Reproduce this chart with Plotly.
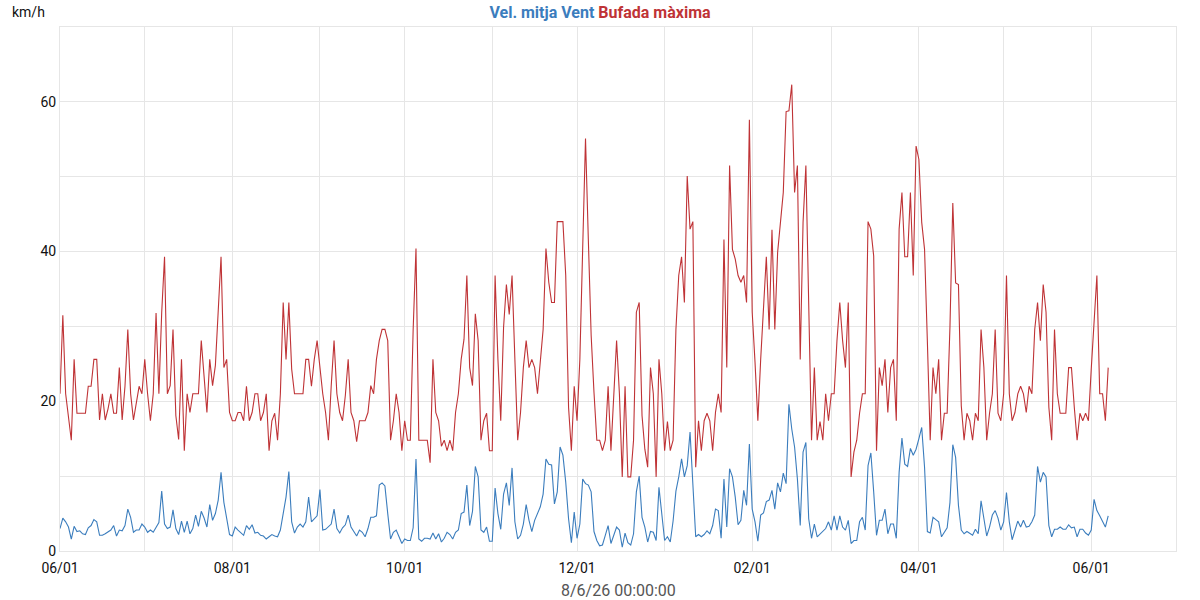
import pandas as pd
import plotly.graph_objects as go

start_date = "2025-06-01"

gust_max = [
    21, 31.5, 21, 18, 14.8, 25.6, 18.4, 18.4, 18.4, 18.4,
    22, 22, 25.6, 25.6, 17.5, 21, 17.5, 19, 21, 18.4,
    18.4, 24.5, 17.5, 22, 29.6, 21, 17.5, 20, 22, 21,
    25.6, 21, 17.4, 21, 31.8, 21, 31.9, 39.3, 21, 22.1,
    29.6, 18.1, 14.9, 25.6, 13.4, 21, 18.5, 21, 21, 21,
    28.1, 23.4, 18.5, 25.6, 22.1, 24.8, 32.8, 39.3, 24.5, 25.6,
    18.5, 17.4, 17.4, 18.5, 18.5, 17.4, 22, 17.4, 18.5, 21,
    21, 17.4, 18.5, 21, 13.4, 17.4, 18.4, 14.8, 21, 33.2,
    25.6, 33.2, 24.3, 21, 21, 21, 21, 25.6, 25.6, 22,
    25.6, 28.1, 24.5, 21, 18.5, 14.8, 22.1, 28.1, 21, 18.5,
    17.4, 20.8, 25.6, 18.5, 17.4, 14.6, 17.4, 17.4, 17.4, 18.5,
    22.1, 21, 25.6, 28.1, 29.6, 29.6, 28.1, 14.8, 17.4, 21,
    18.5, 13.4, 17.4, 14.8, 14.8, 29.6, 40.4, 14.8, 14.8, 14.8,
    14.8, 11.8, 25.6, 18.5, 17.4, 14, 14.8, 13.4, 14.8, 13.4,
    18.5, 21, 25.6, 28.3, 36.8, 24.5, 22.1, 31.7, 28.1, 14.8,
    17.4, 18.4, 13.4, 13.4, 36.8, 25.6, 17.4, 29.9, 35.6, 31.6,
    36.8, 25.6, 14.8, 18.5, 24.5, 28.1, 24.5, 25.6, 24.5, 21,
    25.6, 29.6, 40.4, 35.9, 33.2, 33.2, 44, 44, 44, 36.8,
    19.2, 13.4, 22, 17.4, 25.6, 40.4, 55.1, 41.6, 28.8, 21.2,
    14.8, 14.8, 13.4, 14.8, 22, 13.4, 21, 28.1, 21, 9.9,
    22, 9.9, 9.9, 14.8, 31.9, 33.2, 18.1, 13.6, 11.2, 24.5,
    21, 9.9, 25.6, 21, 13.4, 17.3, 13.4, 14.8, 29.6, 36.8,
    39.3, 33.2, 50.1, 43, 44, 11.2, 17.4, 13.4, 17.4, 18.4,
    17.4, 13.4, 18.5, 21, 18.5, 41.6, 24.5, 51.5, 40.3, 39,
    36.8, 35.9, 36.8, 33.2, 57.6, 31.9, 25.2, 17.4, 25.6, 31.9,
    39.3, 29.6, 42.9, 29.6, 39.9, 43.9, 47.9, 58.7, 58.8, 62.3,
    47.9, 51.5, 25.6, 43.9, 51.5, 33, 14.8, 24.5, 14.8, 17.3,
    14.8, 21, 17.4, 21, 21, 28.1, 33.2, 28.1, 24.5, 33.2,
    9.9, 13.2, 14.8, 18.4, 21, 21, 44, 43, 39.4, 13.4,
    24.5, 22.1, 25.6, 18.5, 24.5, 25.6, 17.4, 43, 47.9, 39.3,
    39.3, 47.9, 36.8, 54.1, 52.3, 43.9, 40.3, 28, 14.8, 24.5,
    21, 25.6, 14.8, 18.4, 18.4, 30, 46.5, 35.8, 35.6, 19.4,
    14.8, 18.4, 17.4, 14.8, 18.4, 17.4, 29.6, 24.5, 14.8, 18.4,
    21, 29.6, 18.4, 17.4, 21, 36.8, 21, 17.4, 18.5, 21,
    22, 21, 18.5, 22, 21, 29.6, 33.2, 28.1, 35.6, 31.9,
    19.2, 14.8, 29.6, 21, 18.4, 18.4, 18.4, 24.5, 24.5, 19.2,
    14.8, 18.4, 17.4, 18.4, 17.4, 24.3, 30.1, 36.8, 21, 21,
    17.4, 24.5,
]

wind_avg = [
    3.0, 4.4, 3.9, 3.2, 1.6, 3.3, 2.6, 2.7, 2.3, 2.2,
    3.1, 3.4, 4.2, 3.9, 2.1, 2.1, 2.3, 2.5, 2.8, 3.4,
    2.0, 2.8, 2.7, 3.4, 5.6, 4.5, 2.5, 2.8, 2.8, 3.6,
    3.2, 2.5, 2.8, 2.5, 3.2, 3.8, 8.0, 3.6, 3.0, 3.2,
    5.5, 3.0, 2.2, 4.0, 2.5, 4.0, 2.3, 3.0, 4.8, 3.3,
    5.3, 4.4, 3.2, 6.2, 4.1, 5.0, 6.8, 10.5, 6.5, 4.3,
    2.2, 2.0, 3.2, 2.8, 2.4, 2.1, 3.4, 2.9, 3.5, 2.4,
    2.5, 2.1, 2.0, 1.6, 1.9, 2.2, 2.0, 1.9, 2.8, 5.0,
    7.2, 10.6, 3.9, 2.4, 3.2, 3.6, 3.2, 3.9, 7.2, 3.9,
    4.3, 4.7, 8.2, 2.8, 2.9, 3.2, 3.6, 5.6, 3.0, 2.4,
    3.1, 3.5, 4.8, 3.2, 2.6, 2.0, 2.8, 2.5, 1.9, 3.0,
    4.5, 4.5, 4.7, 8.8, 9.1, 8.7, 5.0, 1.6, 2.5, 2.8,
    1.9, 1.0, 1.6, 1.4, 1.4, 3.1, 12.3, 1.6, 1.3, 1.7,
    1.7, 1.6, 2.4, 1.6, 2.3, 1.2, 1.7, 2.5, 2.2, 1.6,
    2.5, 2.8, 5.0, 5.2, 8.8, 3.4, 5.3, 11.3, 9.9, 2.8,
    2.5, 3.2, 1.3, 1.3, 8.4, 5.0, 2.9, 7.6, 9.1, 6.1,
    11.1, 3.9, 1.6, 2.1, 3.6, 6.2, 4.1, 2.6, 4.1, 5.0,
    5.9, 7.6, 12.3, 11.6, 11.5, 6.3, 7.9, 13.9, 12.8, 9.2,
    4.3, 1.1, 5.2, 1.7, 3.6, 9.6, 9.0, 8.8, 7.9, 2.6,
    1.4, 0.7, 0.8, 2.1, 3.4, 1.0, 2.2, 3.2, 2.8, 0.5,
    2.4, 1.1, 0.8, 2.3, 7.9, 10.0, 4.5, 3.2, 1.2, 2.6,
    2.5, 1.4, 8.5, 4.8, 1.4, 1.9, 1.2, 4.0, 8.0, 9.9,
    12.3, 9.9, 11.4, 15.9, 8.3, 1.9, 2.2, 1.9, 2.2, 2.7,
    2.3, 3.4, 5.6, 5.4, 1.7, 9.6, 3.2, 11.0, 9.9, 7.2,
    3.5, 4.1, 8.1, 6.1, 14.3, 5.6, 3.9, 1.3, 4.8, 5.1,
    6.6, 6.8, 8.1, 5.6, 9.1, 7.9, 10.4, 9.0, 19.6, 16.3,
    13.9, 9.6, 3.4, 13.2, 14.5, 4.3, 1.7, 3.6, 1.9, 2.3,
    2.7, 3.0, 3.9, 2.8, 4.7, 2.8, 4.7, 3.2, 2.8, 4.1,
    1.0, 1.4, 1.4, 3.9, 4.5, 2.8, 11.4, 13.1, 7.9, 2.1,
    4.1, 4.1, 5.6, 2.3, 3.6, 3.6, 1.7, 10.5, 15.1, 11.6,
    11.3, 13.7, 12.8, 13.6, 15.0, 16.5, 11.2, 2.6, 2.4, 4.5,
    4.2, 3.9, 1.9, 2.5, 3.1, 6.5, 14.2, 12.5, 6.1, 2.8,
    2.3, 2.6, 2.4, 2.1, 2.9, 2.3, 6.7, 4.3, 2.0, 3.2,
    4.8, 5.4, 4.4, 2.8, 3.9, 7.8, 3.9, 1.5, 2.9, 4.0,
    3.2, 4.1, 3.2, 3.3, 3.9, 4.8, 11.3, 9.2, 10.5, 9.9,
    3.4, 1.9, 2.9, 2.9, 3.2, 2.9, 2.9, 3.5, 3.1, 3.2,
    1.9, 2.9, 2.9, 2.4, 2.1, 2.8, 6.9, 5.4, 4.7, 3.9,
    3.2, 4.7,
]

dates = pd.date_range(start_date, periods=len(gust_max), freq="D")

series_names = ["Vel. mitja Vent", "Bufada màxima"]
y_tick_vals = [0, 20, 40, 60]
y_unit = "km/h"
x_title = "8/6/26 00:00:00"

BLUE = "#3b7dbd"
RED = "#bf3336"
GRID = "#e6e6e6"

fig = go.Figure()
fig.add_trace(go.Scatter(x=dates, y=wind_avg, mode="lines", name=series_names[0],
                         line=dict(color=BLUE, width=1.1)))
fig.add_trace(go.Scatter(x=dates, y=gust_max, mode="lines", name=series_names[1],
                         line=dict(color=RED, width=1.1)))

fig.update_layout(
    width=1200, height=600,
    margin=dict(l=60, r=24, t=27, b=49, autoexpand=False),
    paper_bgcolor="white", plot_bgcolor="white",
    showlegend=False,
    font=dict(family="Roboto", size=14, color="#111"),
    title=dict(
        text=f"<b><span style='color:{BLUE}'>{series_names[0]}</span> "
             f"<span style='color:{RED}'>{series_names[1]}</span></b>",
        x=0.5, xanchor="center", y=0.98, yanchor="middle", yref="container",
        font=dict(family="Roboto", size=16),
    ),
    annotations=[
        dict(text=y_unit, xref="paper", yref="paper", x=0, y=1,
             xshift=-50, yshift=15, xanchor="left", yanchor="middle",
             showarrow=False, font=dict(family="Roboto", size=14, color="#111")),
        dict(text=x_title, xref="paper", yref="paper", x=0.5, y=0,
             yshift=-39, xanchor="center", yanchor="middle",
             showarrow=False, font=dict(family="Roboto", size=16, color="#555")),
    ],
)

fig.update_xaxes(
    range=["2025-06-01", "2026-07-01"],
    dtick="M2", tick0="2025-06-01", tickformat="%m/%d",
    showgrid=True, gridcolor=GRID, gridwidth=1,
    minor=dict(dtick="M1", showgrid=True, gridcolor=GRID, gridwidth=1),
    showline=True, linecolor=GRID, mirror=True,
    ticks="", tickfont=dict(size=14, color="#111"),
    ticklabelstandoff=4,
    automargin=False,
    zeroline=False,
)
fig.update_yaxes(
    range=[0, 70],
    tickvals=y_tick_vals,
    showgrid=True, gridcolor=GRID, gridwidth=1,
    minor=dict(dtick=10, showgrid=True, gridcolor=GRID, gridwidth=1),
    showline=True, linecolor=GRID, mirror=True,
    ticks="", tickfont=dict(size=14, color="#111"),
    automargin=False,
    zeroline=False,
)

fig.write_html("out.html")
